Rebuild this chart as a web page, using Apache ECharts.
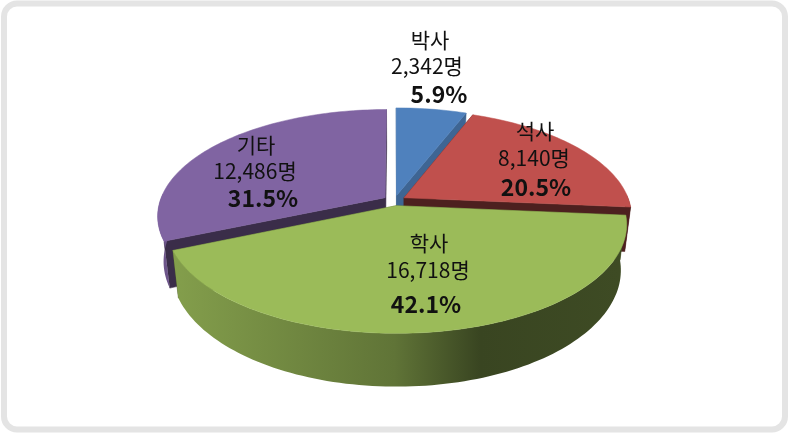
<!DOCTYPE html>
<html><head><meta charset="utf-8">
<style>html,body{margin:0;padding:0;background:#fff}#c{width:789px;height:433px}</style>
<script src="https://cdn.jsdelivr.net/npm/echarts@6/dist/echarts.min.js"></script>
</head><body><div id="c"></div>
<script>
// ---- data ----
const categories = ['박사', '석사', '학사', '기타'];
const headcounts = [2342, 8140, 16718, 12486];
const percents = ['5.9%', '20.5%', '42.1%', '31.5%'];
const unit = '명';
// ---- styles ----
const topColors = ['#4f81bd', '#c0504d', '#9bbb59', '#8064a2'];
const cutShades = [0.22, 0.6, 0.5, 0.55];
// ---- projection (oblique perspective view of the pie) ----
const view = {cx: 394.5, cy: 200.5, rx: 225, ry: 104, persp: 0.17, explode: 0.05,
  drop: 44, bottomX: 0.975, bottomY: 1.07};
const labelLayout = [
  [[430, 40], [427, 66], [439, 94]],
  [[535, 131], [534, 158], [536, 187]],
  [[429, 243], [428, 270], [426, 304]],
  [[256, 145], [255, 171], [263, 198]]
];

const total = headcounts.reduce((a, b) => a + b, 0);
const slices = [];
let acc = 0;
headcounts.forEach((v, i) => {
  const start = acc / total * Math.PI * 2;
  acc += v;
  const end = acc / total * Math.PI * 2;
  slices.push({i, start, end, mid: (start + end) / 2});
});
const depthOrder = slices.slice().sort((a, b) => Math.cos(b.mid) - Math.cos(a.mid)).map(s => s.i);

function project(u, v, bottom) {
  const w = 1 - view.persp * v;
  const x = view.rx * u / w, y = view.ry * v / w;
  return bottom
    ? [view.cx + x * view.bottomX, view.cy + view.drop + y * view.bottomY]
    : [view.cx + x, view.cy + y];
}
function rimPoint(s, a, bottom) {
  const ox = view.explode * Math.sin(s.mid), oy = -view.explode * Math.cos(s.mid);
  return project(Math.sin(a) + ox, -Math.cos(a) + oy, bottom);
}
function apex(s, bottom) {
  return project(view.explode * Math.sin(s.mid), -view.explode * Math.cos(s.mid), bottom);
}
function arcAngles(s) {
  const n = Math.max(8, Math.ceil((s.end - s.start) * 40));
  const out = [];
  for (let k = 0; k <= n; k++) out.push(s.start + (s.end - s.start) * k / n);
  return out;
}
function darken(c, k) {
  const n = parseInt(c.slice(1), 16);
  const f = x => Math.round(x * (1 - k));
  return 'rgb(' + f(n >> 16 & 255) + ',' + f(n >> 8 & 255) + ',' + f(n & 255) + ')';
}
function wallFill(base) {
  return {type: 'linear', global: true, x: view.cx - view.rx, y: 0, x2: view.cx + view.rx, y2: 0, colorStops: [
    {offset: 0, color: darken(base, 0.15)},
    {offset: 0.5, color: darken(base, 0.38)},
    {offset: 0.69, color: darken(base, 0.63)},
    {offset: 1, color: darken(base, 0.6)}
  ]};
}
function renderSlice(params, api) {
  const idx = api.value(0);
  const s = slices[idx];
  const base = topColors[idx];
  const angles = arcAngles(s);
  const top = angles.map(a => rimPoint(s, a, false));
  const cutFill = darken(base, cutShades[idx]);
  const a0 = apex(s, false), a1 = apex(s, true);
  const cut = a => ({type: 'polygon',
    shape: {points: [a0, rimPoint(s, a, false), rimPoint(s, a, true), a1]},
    style: {fill: cutFill, stroke: cutFill, lineWidth: 0.5}});
  // only the viewer-facing part of the rim has a visible outer wall
  const front = angles.filter(a => Math.cos(a) < 0.05);
  const children = [cut(s.start), cut(s.end)];
  if (front.length > 1) {
    children.push({type: 'polygon',
      shape: {points: front.map(a => rimPoint(s, a, false))
        .concat(front.slice().reverse().map(a => rimPoint(s, a, true)))},
      style: {fill: wallFill(base)}});
  }
  children.push({type: 'polygon', shape: {points: [a0].concat(top)},
    style: {fill: base, stroke: base, lineWidth: 0.5}});
  return {type: 'group', children};
}
function renderLabels(params, api) {
  const idx = api.value(0);
  const pos = labelLayout[idx];
  const name = categories[idx];
  const count = headcounts[idx].toLocaleString('en-US') + unit;
  const line = (t, p, bold) => ({type: 'text', style: {
    text: t, x: p[0], y: p[1], align: 'center', verticalAlign: 'middle',
    fontFamily: '"Noto Sans CJK KR","Noto Sans",sans-serif',
    fontSize: bold ? 23 : 21, fontWeight: bold ? 'bold' : 'normal', fill: '#111'}});
  return {type: 'group', children: [line(name, pos[0]), line(count, pos[1]), line(percents[idx], pos[2], true)]};
}
const chart = echarts.init(document.getElementById('c'), null, {renderer: 'canvas'});
chart.setOption({
  animation: false,
  backgroundColor: '#fff',
  graphic: [{type: 'rect', z: 0, shape: {x: 4, y: 3.5, width: 781, height: 426, r: 13},
    style: {fill: '#fff', stroke: '#e4e4e4', lineWidth: 6}}],
  series: [
    {type: 'custom', coordinateSystem: 'none', z: 2, silent: true,
      data: depthOrder.map(i => [i]), renderItem: renderSlice},
    {type: 'custom', coordinateSystem: 'none', z: 5, silent: true,
      data: categories.map((c, i) => [i]), renderItem: renderLabels}
  ]
});
</script></body></html>
